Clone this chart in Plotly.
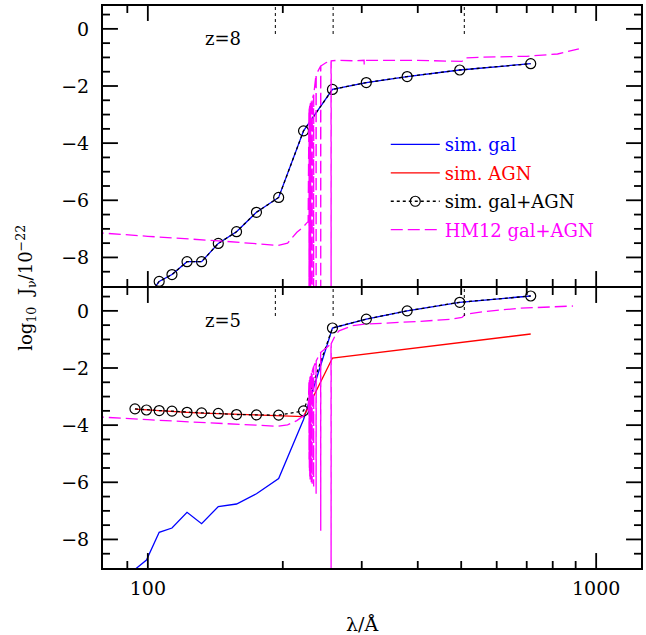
import plotly.graph_objects as go
from plotly.subplots import make_subplots

# Wavelength grid of the simulated spectra (Angstrom)
lam_sim = [93.6, 99.3, 106.0, 113.2, 122.3, 131.8, 143.6, 157.7, 174.7, 195.8,
           222.5, 258.1, 307.1, 378.8, 496.2, 714.5]

# z = 8 : log10 J_nu / 1e-22
gal_z8 = [-9.90, -9.45, -8.84, -8.60, -8.15, -8.15, -7.51, -7.10, -6.42, -5.90,
          -3.57, -2.12, -1.88, -1.67, -1.44, -1.22]
sum_z8 = [-9.90, -9.45, -8.84, -8.60, -8.15, -8.15, -7.51, -7.10, -6.42, -5.90,
          -3.57, -2.12, -1.88, -1.67, -1.44, -1.22]

# z = 5
gal_z5 = [-9.05, -8.72, -7.75, -7.60, -7.05, -7.45, -6.85, -6.76, -6.40, -5.87,
          -3.80, -0.60, -0.29, 0.00, 0.30, 0.52]
agn_z5 = [-3.44, -3.47, -3.50, -3.52, -3.55, -3.58, -3.60, -3.63, -3.65, -3.66,
          -3.70, -1.65, -1.51, -1.34, -1.11, -0.81]
sum_z5 = [-3.43, -3.47, -3.49, -3.51, -3.55, -3.57, -3.59, -3.63, -3.64, -3.65,
          -3.50, -0.60, -0.29, 0.00, 0.30, 0.52]

# HM12 background: continuum knots
hm_lam_z8 = [75, 100, 150, 195, 205, 215, 222, 226, 227.8, 250, 265, 290, 340,
             400, 470, 502, 510, 560, 700, 820, 915]
hm_val_z8 = [-7.12, -7.26, -7.44, -7.58, -7.50, -7.12, -6.94, -6.80, -6.75, -1.18,
             -1.10, -1.12, -1.10, -1.10, -1.13, -1.14, -1.02, -0.99, -0.96, -0.88, -0.70]
hm_lam_z5 = [75, 100, 150, 195, 205, 215, 222, 226, 227.8, 250, 262, 267, 286,
             306, 339, 402, 477, 502, 511, 566, 671, 888]
hm_val_z5 = [-3.70, -3.81, -3.95, -4.04, -3.99, -3.84, -3.68, -3.55, -3.50, -1.30,
             -0.85, -0.70, -0.52, -0.46, -0.43, -0.37, -0.29, -0.23, -0.12, -0.02, 0.09, 0.17]

# HM12 HeII Lyman-series absorption: line centre, local continuum, trough
hm_line_lam_z8 = [228.86, 229.20, 229.43, 229.74, 230.14, 230.69, 231.46, 232.59,
                  234.35, 237.33, 243.03, 256.32, 303.78]
hm_line_top_z8 = [-2.85, -2.80, -2.75, -2.70, -2.65, -2.60, -2.55, -2.45,
                  -2.30, -1.60, -1.30, -1.12, -1.10]
hm_line_bot_z8 = [-9.6, -9.6, -9.6, -9.6, -9.6, -9.6, -9.6, -9.6,
                  -9.6, -9.6, -9.6, -9.6, -1.25]
hm_line_lam_z5 = [228.86, 229.20, 229.43, 229.74, 230.14, 230.69, 231.46, 232.59,
                  234.35, 237.33, 243.03, 256.32]
hm_line_top_z5 = [-2.50, -2.45, -2.42, -2.38, -2.33, -2.28, -2.20, -2.10,
                  -1.95, -1.75, -1.45, -1.15]
hm_line_bot_z5 = [-5.2, -5.5, -5.6, -5.8, -5.9, -5.9, -6.0, -6.05,
                  -6.15, -6.4, -7.7, -9.6]

# band edges marked at the top of each panel
edge_lam = [192.5, 259.0, 508.0]

# axis ticks
x_major = [100, 1000]
x_minor = [90, 200, 300, 400, 500, 600, 700, 800, 900]
y_major = [0, -2, -4, -6, -8]
y_minor = [0.5, -0.5, -1, -1.5, -2.5, -3, -3.5, -4.5, -5, -5.5, -6.5, -7, -7.5, -8.5]

legend_names = ["sim. gal", "sim. AGN", "sim. gal+AGN", "HM12 gal+AGN"]
BLUE, RED, MAG, BLACK = "#0000ff", "#ff0000", "#ff00ff", "#000000"
FONT = "DejaVu Serif"
X_RANGE = [1.9, 3.1]
Y_RANGE = [-9, 0.8]

# tick lengths as fractions of the panel width / height
XT_MAJOR, XT_MINOR = 15 / 281, 7 / 281
YT_MAJOR, YT_MINOR = 15 / 540, 7 / 540


def hm_path(knot_lam, knot_val, line_lam, line_top, line_bot, half=0.12):
    pts = list(zip(knot_lam, knot_val))
    for lam, top, bot in zip(line_lam, line_top, line_bot):
        pts += [(lam - half, top), (lam, bot), (lam + half, top)]
    pts.sort(key=lambda p: p[0])
    return [p[0] for p in pts], [p[1] for p in pts]


def colored(name, color):
    return f'<span style="color:{color}">{name}</span>'


fig = make_subplots(rows=2, cols=1, shared_xaxes=True, vertical_spacing=0)

panels = [
    (1, gal_z8, None, sum_z8, (hm_lam_z8, hm_val_z8, hm_line_lam_z8, hm_line_top_z8, hm_line_bot_z8)),
    (2, gal_z5, agn_z5, sum_z5, (hm_lam_z5, hm_val_z5, hm_line_lam_z5, hm_line_top_z5, hm_line_bot_z5)),
]

for row, gal, agn, tot, hm in panels:
    show = row == 2
    fig.add_trace(go.Scatter(x=lam_sim, y=gal, mode="lines",
                             line=dict(color=BLUE, width=1.3),
                             name=colored(legend_names[0], BLUE), legendgroup="g",
                             legendrank=1, showlegend=show), row=row, col=1)
    if agn is not None:
        fig.add_trace(go.Scatter(x=lam_sim, y=agn, mode="lines",
                                 line=dict(color=RED, width=1.3),
                                 name=colored(legend_names[1], RED), legendgroup="a",
                                 legendrank=2, showlegend=show), row=row, col=1)
    fig.add_trace(go.Scatter(x=lam_sim, y=tot, mode="lines+markers",
                             line=dict(color=BLACK, width=1.3, dash="dot"),
                             marker=dict(symbol="circle-open", size=10, color=BLACK,
                                         line=dict(width=1.2, color=BLACK)),
                             name=colored(legend_names[2], BLACK), legendgroup="s",
                             legendrank=3, showlegend=show), row=row, col=1)
    hx, hy = hm_path(*hm)
    fig.add_trace(go.Scatter(x=hx, y=hy, mode="lines",
                             line=dict(color=MAG, width=1.3, dash="12px,5px", simplify=False),
                             name=colored(legend_names[3], MAG), legendgroup="h",
                             legendrank=4, showlegend=show), row=row, col=1)

    xr = "x" if row == 1 else f"x{row}"
    yr = "y" if row == 1 else f"y{row}"
    for lam in edge_lam:
        fig.add_shape(type="line", xref=xr, yref=f"{yr} domain",
                      x0=lam, x1=lam, y0=0.9, y1=1.0,
                      line=dict(color=BLACK, width=1, dash="dot"))

    # inward tick marks on all four sides of the panel
    tick = dict(color=BLACK, width=1.8)
    for vals, ln in ((x_major, XT_MAJOR), (x_minor, XT_MINOR)):
        for v in vals:
            fig.add_shape(type="line", xref=xr, yref=f"{yr} domain",
                          x0=v, x1=v, y0=0, y1=ln, line=tick)
            fig.add_shape(type="line", xref=xr, yref=f"{yr} domain",
                          x0=v, x1=v, y0=1 - ln, y1=1, line=tick)
    for vals, ln in ((y_major, YT_MAJOR), (y_minor, YT_MINOR)):
        for v in vals:
            fig.add_shape(type="line", xref=f"{xr} domain", yref=yr,
                          x0=0, x1=ln, y0=v, y1=v, line=tick)
            fig.add_shape(type="line", xref=f"{xr} domain", yref=yr,
                          x0=1 - ln, x1=1, y0=v, y1=v, line=tick)

axis_common = dict(showline=True, linecolor=BLACK, linewidth=2, mirror=True,
                   ticks="", showgrid=False, zeroline=False, tickmode="array",
                   tickfont=dict(family=FONT, size=19, color=BLACK))

for r in (1, 2):
    fig.update_xaxes(type="log", range=X_RANGE, tickvals=x_major,
                     ticktext=[str(v) for v in x_major],
                     showticklabels=(r == 2), ticklabelstandoff=2,
                     row=r, col=1, **axis_common)
    fig.update_yaxes(range=Y_RANGE, tickvals=y_major,
                     ticktext=[f"{v:d}".replace("-", "−") for v in y_major],
                     ticklabelstandoff=8, row=r, col=1, **axis_common)

# panels meet on a single frame line
fig.update_layout(yaxis=dict(domain=[0.5 + 1 / 562, 1.0]),
                  yaxis2=dict(domain=[0.0, 0.5 - 1 / 562]))

fig.add_annotation(text="log<sub>10</sub>  J<sub>ν</sub>/10<sup>−22</sup>", textangle=-90,
                   xref="paper", yref="paper", x=-0.1444, y=0.499,
                   xanchor="center", yanchor="middle", showarrow=False,
                   font=dict(family=FONT, size=18, color=BLACK))
fig.add_annotation(text="λ/Å", xref="paper", yref="paper", x=0.4815, y=-0.0998,
                   xanchor="center", yanchor="middle", showarrow=False,
                   font=dict(family=FONT, size=19, color=BLACK))
fig.add_annotation(text="z=8", xref="x domain", yref="y domain", x=0.185, y=0.883,
                   xanchor="left", yanchor="middle", showarrow=False,
                   font=dict(family=FONT, size=18, color=BLACK))
fig.add_annotation(text="z=5", xref="x2 domain", yref="y2 domain", x=0.185, y=0.883,
                   xanchor="left", yanchor="middle", showarrow=False,
                   font=dict(family=FONT, size=18, color=BLACK))

fig.update_layout(
    width=646, height=635,
    margin=dict(l=103, r=3, t=6, b=67),
    paper_bgcolor="white", plot_bgcolor="white",
    legend=dict(x=0.5256, y=0.786, xanchor="left", yanchor="top",
                bgcolor="rgba(0,0,0,0)", borderwidth=0,
                font=dict(family=FONT, size=18, color=BLACK),
                itemwidth=49, tracegroupgap=2, traceorder="grouped"),
    showlegend=True,
)

fig.write_html("out.html")
